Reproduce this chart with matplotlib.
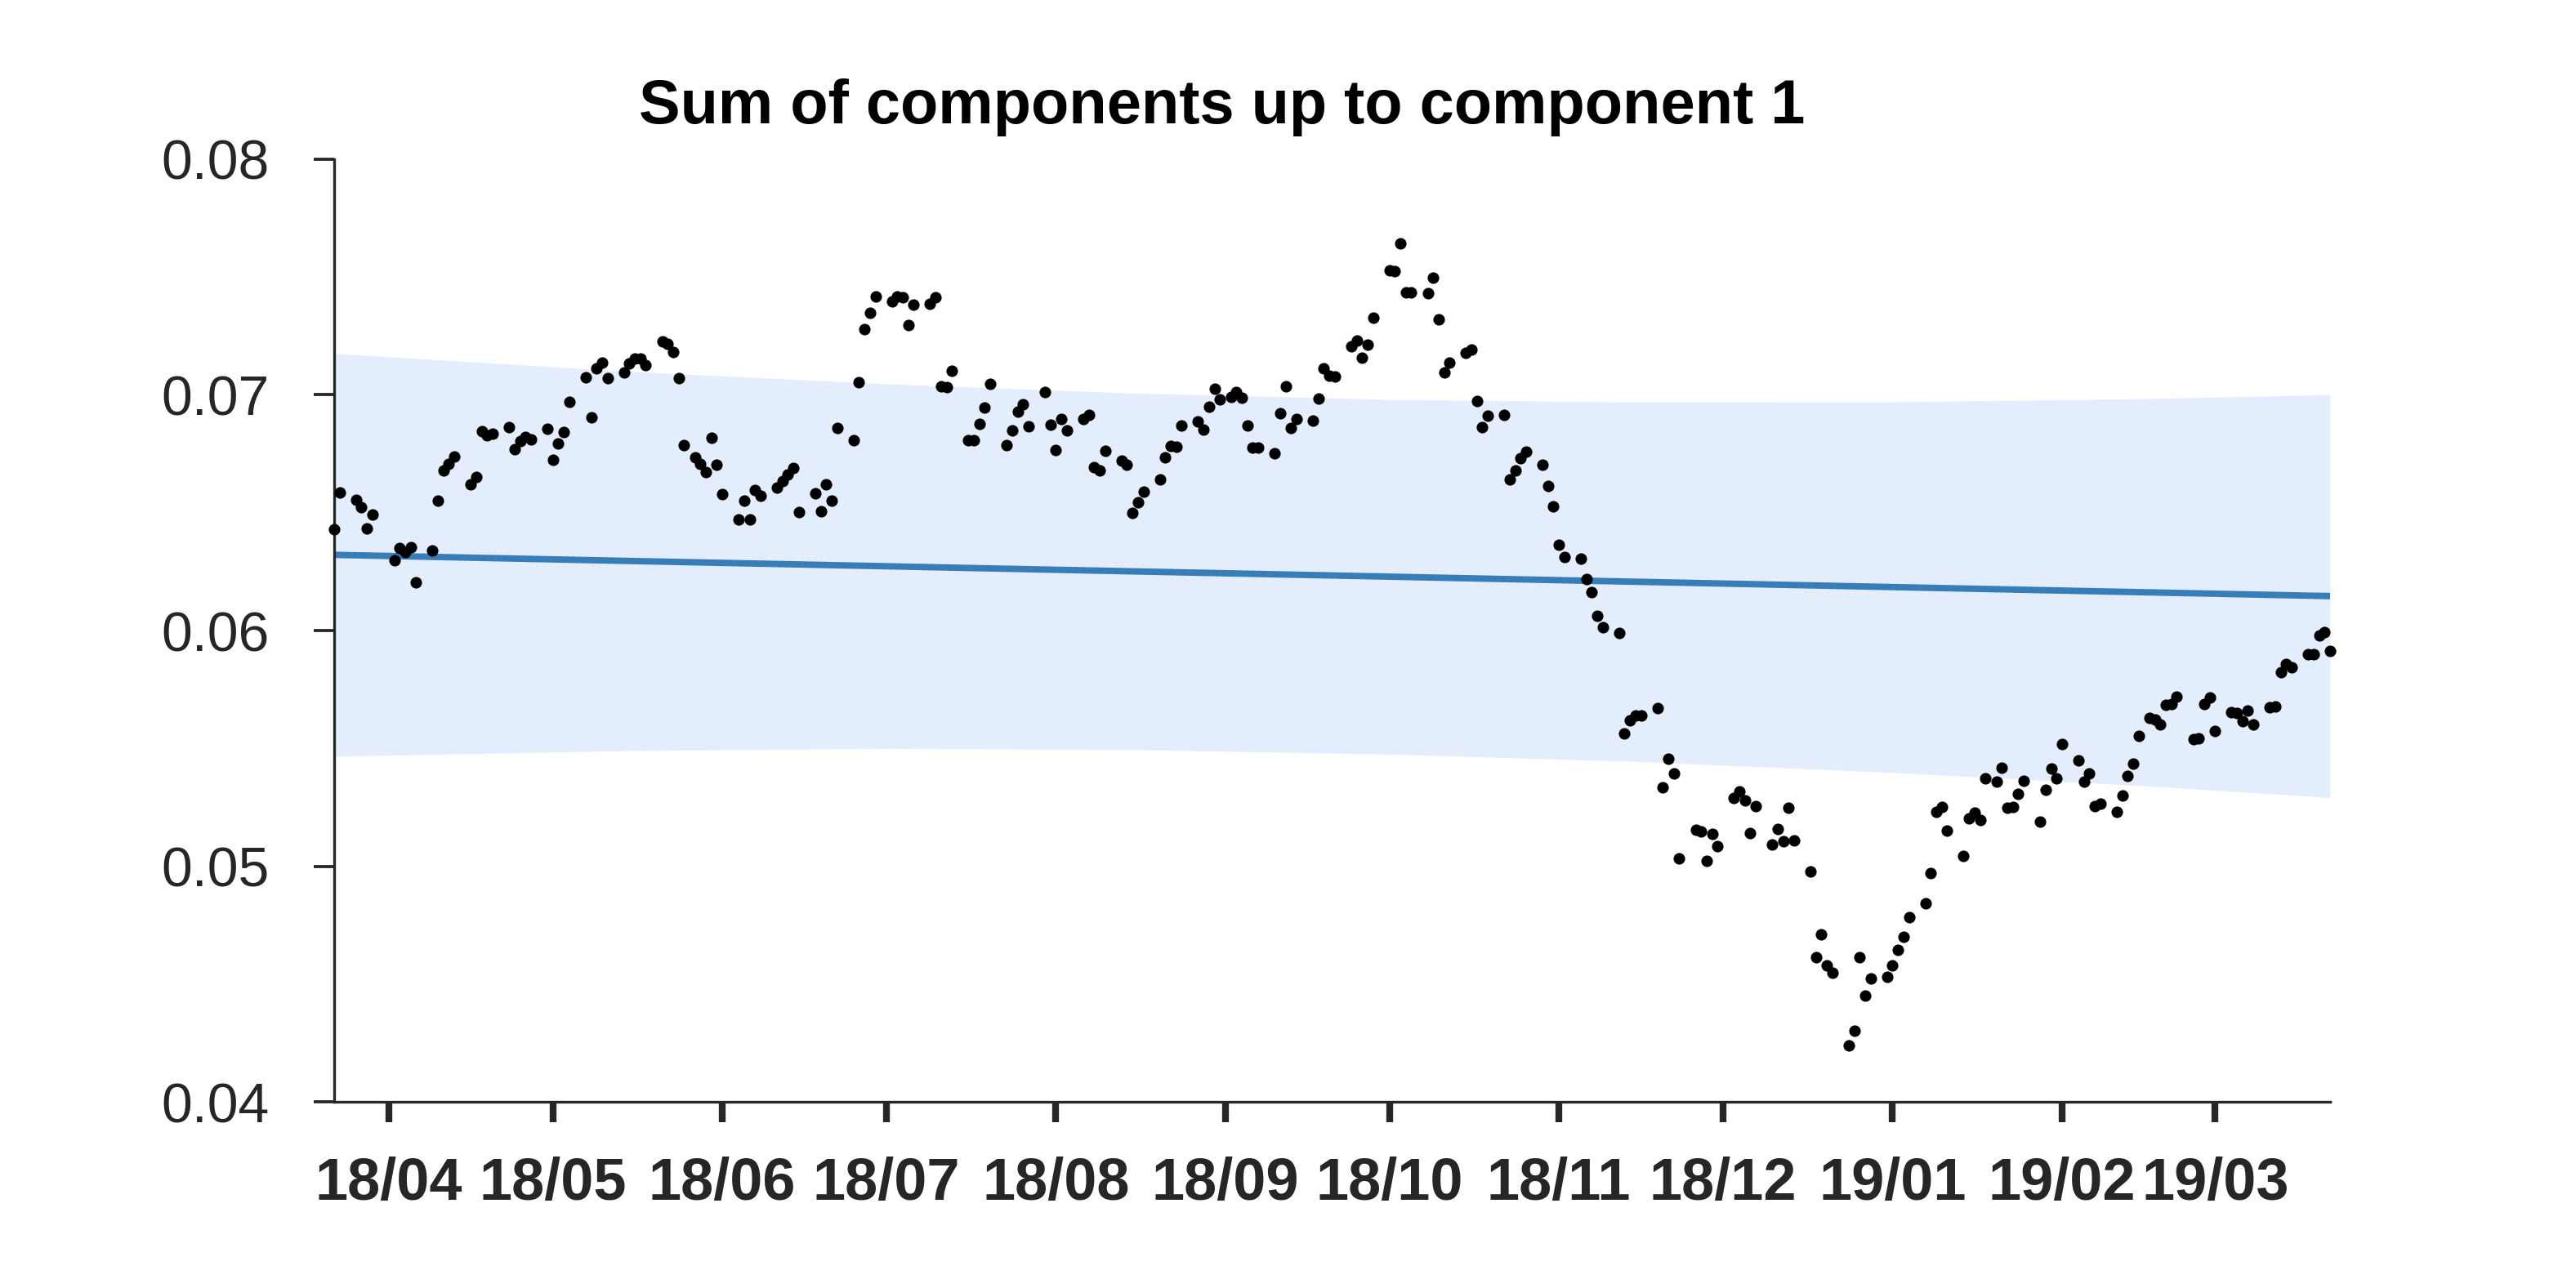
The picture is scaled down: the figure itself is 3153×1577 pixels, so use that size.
import numpy as np
import pandas as pd
import matplotlib
matplotlib.use("Agg")
import matplotlib.pyplot as plt
import matplotlib.dates as mdates
from matplotlib.ticker import FormatStrFormatter

# observation calendar: weekdays, one closed day, a few extra Sunday sessions
start_date = "2018-03-22"
end_date = "2019-03-22"
closed_days = ["2018-03-30"]
extra_days = ["2018-05-27", "2018-09-02", "2019-01-20", "2019-02-17"]

vals_mar_may = [
    0.06428, 0.06587, 0.06553, 0.06523, 0.06434, 0.06492,
    0.06299, 0.06350, 0.06332, 0.06353, 0.06203,
    0.06339, 0.06550, 0.06680, 0.06705, 0.06738,
    0.06619, 0.06650, 0.06846, 0.06827, 0.06836,
    0.06864, 0.06769, 0.06804, 0.06821, 0.06809,
    0.06856,
    0.06723, 0.06792, 0.06842, 0.06971,
    0.07073, 0.06904, 0.07112, 0.07135, 0.07069,
    0.07096, 0.07131, 0.07154, 0.07154, 0.07127,
    0.07225, 0.07216, 0.07182, 0.07069, 0.06786,
    0.06734, 0.06705, 0.06671, 0.06819, 0.06702,
]
vals_jun_aug = [
    0.06578,
    0.06471, 0.06550, 0.06471, 0.06596, 0.06573,
    0.06607, 0.06633, 0.06663, 0.06688, 0.06503,
    0.06582, 0.06506, 0.06619, 0.06552, 0.06858,
    0.06806, 0.07052, 0.07277, 0.07347, 0.07416,
    0.07395, 0.07416, 0.07413, 0.07295, 0.07381,
    0.07387, 0.07412, 0.07037, 0.07032, 0.07100,
    0.06806, 0.06806, 0.06875, 0.06945, 0.07046,
    0.06786, 0.06850, 0.06928, 0.06960, 0.06867,
    0.07012, 0.06873,
    0.06766, 0.06896, 0.06848,
    0.06898, 0.06916, 0.06694, 0.06679, 0.06761,
    0.06719, 0.06702, 0.06500, 0.06544, 0.06588,
    0.06642, 0.06734, 0.06783, 0.06781, 0.06871,
    0.06887, 0.06852, 0.06950, 0.07025, 0.06979,
]
vals_sep_nov = [
    0.06991, 0.07012, 0.06986, 0.06871, 0.06775, 0.06775,
    0.06752, 0.06923, 0.07037, 0.06858, 0.06898,
    0.06889, 0.06983, 0.07112, 0.07079, 0.07077,
    0.07206, 0.07229, 0.07156, 0.07211, 0.07326,
    0.07529, 0.07523, 0.07641, 0.07433, 0.07433,
    0.07430, 0.07497, 0.07318, 0.07096, 0.07135,
    0.07177, 0.07193, 0.06975, 0.06864, 0.06911,
    0.06916, 0.06642, 0.06680, 0.06731, 0.06757,
    0.06702, 0.06614, 0.06527,
    0.06364, 0.06311,
    0.06306, 0.06218, 0.06163, 0.06062, 0.06013,
    0.05988, 0.05564, 0.05618, 0.05641, 0.05641,
    0.05671, 0.05336, 0.05455, 0.05395, 0.05034,
    0.05156, 0.05149, 0.05023, 0.05138, 0.05087,
]
vals_dec_mar = [
    0.05289, 0.05318, 0.05280, 0.05141, 0.05254,
    0.05092, 0.05158, 0.05107, 0.05250, 0.05111,
    0.04980, 0.04613, 0.04711, 0.04580, 0.04550,
    0.04242, 0.04304, 0.04613, 0.04452, 0.04523,
    0.04531,
    0.04580, 0.04645, 0.04700, 0.04786,
    0.04843, 0.04970, 0.05230, 0.05251, 0.05151,
    0.05043, 0.05204, 0.05228, 0.05198, 0.05373,
    0.05359, 0.05418, 0.05250, 0.05253, 0.05306, 0.05362,
    0.05191, 0.05324, 0.05415, 0.05373,
    0.05519,
    0.05449, 0.05359, 0.05394, 0.05256, 0.05265,
    0.05232, 0.05302, 0.05382, 0.05435, 0.05552,
    0.05628, 0.05622, 0.05603, 0.05685, 0.05689, 0.05720,
    0.05541, 0.05543, 0.05689, 0.05716,
    0.05573,
    0.05652, 0.05649, 0.05616, 0.05660, 0.05601,
    0.05673, 0.05679, 0.05822, 0.05857, 0.05845,
    0.05901, 0.05898, 0.05980, 0.05994, 0.05915,
]

# fitted trend and its uncertainty band
trend_dates = [start_date, end_date]
trend_values = [0.06321, 0.06146]
band_dates = ["2018-03-22", "2018-05-15", "2018-07-01", "2018-08-15", "2018-10-01",
              "2018-11-15", "2019-01-01", "2019-02-15", "2019-03-22"]
band_upper = [0.07175, 0.07099, 0.07046, 0.07007, 0.06980, 0.06969, 0.06970, 0.06983, 0.07000]
band_lower = [0.05467, 0.05491, 0.05500, 0.05495, 0.05476, 0.05445, 0.05398, 0.05343, 0.05292]

title = "Sum of components up to component 1"


def build_dates():
    days = pd.bdate_range(start_date, end_date)
    days = days.drop(pd.to_datetime(closed_days))
    return days.union(pd.to_datetime(extra_days))


def main():
    dates = build_dates()
    values = np.concatenate([vals_mar_may, vals_jun_aug, vals_sep_nov, vals_dec_mar])
    assert len(dates) == len(values), (len(dates), len(values))

    fig = plt.figure(figsize=(10.51, 5.2567), dpi=300)
    ax = fig.add_axes([0.1297, 0.1443, 0.7748, 0.7323])

    ax.fill_between(pd.to_datetime(band_dates), band_lower, band_upper,
                    color="#e4edfc", lw=0, zorder=1)
    ax.plot(pd.to_datetime(trend_dates), trend_values, color="#377eb8", lw=1.9,
            solid_capstyle="round", zorder=2)
    ax.plot(dates, values, "o", ms=3.4, color="black", mew=0, clip_on=False, zorder=3)

    ax.set_xlim(pd.Timestamp(start_date), pd.Timestamp(end_date))
    ax.set_ylim(0.04, 0.08)
    ax.set_yticks([0.04, 0.05, 0.06, 0.07, 0.08])
    ax.yaxis.set_major_formatter(FormatStrFormatter("%.2f"))
    ax.xaxis.set_major_locator(mdates.MonthLocator())
    ax.xaxis.set_major_formatter(mdates.DateFormatter("%y/%m"))

    for side in ["top", "right"]:
        ax.spines[side].set_visible(False)
    for side in ["left", "bottom"]:
        ax.spines[side].set_color("#262626")
        ax.spines[side].set_linewidth(0.8)

    ax.tick_params(axis="y", direction="out", length=6, width=0.9, colors="#262626",
                   labelsize=16.3, pad=13)
    ax.tick_params(axis="x", direction="out", length=6, width=2.0, colors="#262626",
                   labelsize=17.3, pad=10)
    for lab in ax.get_yticklabels():
        lab.set_family(["Liberation Sans", "DejaVu Sans"])
    for lab in ax.get_xticklabels():
        lab.set_family(["Liberation Sans Narrow", "Liberation Sans", "DejaVu Sans"])
        lab.set_fontweight("bold")

    fig.text(0.4745, 0.904, title, ha="center", va="baseline", fontsize=18.2,
             fontweight="bold", family=["Liberation Sans", "DejaVu Sans"])

    fig.savefig("out.png", dpi=300, facecolor="white")


if __name__ == "__main__":
    main()
